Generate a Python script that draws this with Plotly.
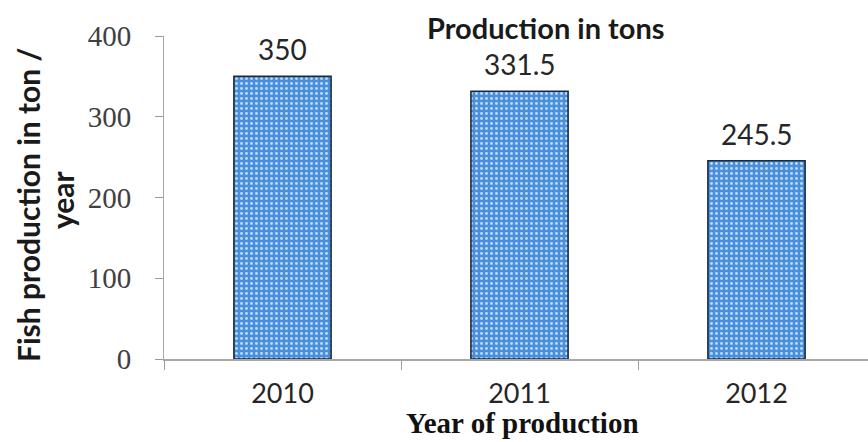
import plotly.graph_objects as go

years = ["2010", "2011", "2012"]
production = [350, 331.5, 245.5]
label_text = ["350", "331.5", "245.5"]
y_ticks = [0, 100, 200, 300, 400]

W, H = 868, 442
L, R, T, B = 164, 0, 36, 83
pw = W - L - R
SANS = "Lato, Open Sans, sans-serif"
SERIF = "Liberation Serif, Times New Roman, serif"

fig = go.Figure()
fig.add_trace(go.Bar(
    x=years, y=production, width=0.41,
    marker=dict(
        color="#4a8fdb",
        line=dict(color="#1c2a3c", width=1.6),
        pattern=dict(shape=".", size=5, solidity=0.28,
                     fgcolor="rgba(215,235,255,0.8)", bgcolor="#4a8fdb",
                     fillmode="replace"),
    ),
    showlegend=False, hoverinfo="skip",
))

for i, (yv, t) in enumerate(zip(production, label_text)):
    fig.add_annotation(x=i, y=yv, text=t, showarrow=False, yanchor="middle",
                       yshift=27, font=dict(family=SANS, size=28, color="#262626"))

fig.add_annotation(x=(546 - L) / pw, y=1, xref="paper", yref="paper", yanchor="middle",
                   yshift=9, text="<b>Production in tons</b>", showarrow=False,
                   font=dict(family=SANS, size=29, color="#1a1a1a"))

fig.add_annotation(x=(28 - L) / pw, y=(H - B - 205) / (H - T - B), xref="paper", yref="paper",
                   text="<b>Fish production in ton /</b>", textangle=-90,
                   showarrow=False, xanchor="center", yanchor="middle",
                   font=dict(family=SANS, size=30, color="#1a1a1a"))
fig.add_annotation(x=(62 - L) / pw, y=(H - B - 200) / (H - T - B), xref="paper", yref="paper",
                   text="<b>year</b>", textangle=-90,
                   showarrow=False, xanchor="center", yanchor="middle",
                   font=dict(family=SANS, size=30, color="#1a1a1a"))

fig.add_annotation(x=(522 - L) / pw, y=0, xref="paper", yref="paper",
                   yanchor="bottom", yshift=-(H - (H - B)) + 1,
                   text="<b>Year of production</b>", showarrow=False,
                   font=dict(family=SERIF, size=29, color="#111111"))

fig.update_layout(
    width=W, height=H,
    margin=dict(l=L, r=R, t=T, b=B, pad=0),
    plot_bgcolor="white", paper_bgcolor="white",
    xaxis=dict(
        type="category", range=[-0.5, 2.5 - 7 / 237], tickson="boundaries",
        ticks="outside", ticklen=9, tickcolor="#9a9a9a", tickwidth=1,
        showline=True, linecolor="#a8a8a8", linewidth=1.5,
        showgrid=False, zeroline=False,
        tickfont=dict(family=SANS, size=27, color="#262626"),
        ticklabelstandoff=10,
    ),
    yaxis=dict(
        range=[0, 400], tickvals=y_ticks,
        ticks="outside", ticklen=8, tickcolor="#9a9a9a", tickwidth=1,
        showline=True, linecolor="#a8a8a8", linewidth=1,
        showgrid=False, zeroline=False,
        tickfont=dict(family=SERIF, size=29, color="#404040"),
        ticklabelstandoff=18,
    ),
)

fig.write_html("out.html")
